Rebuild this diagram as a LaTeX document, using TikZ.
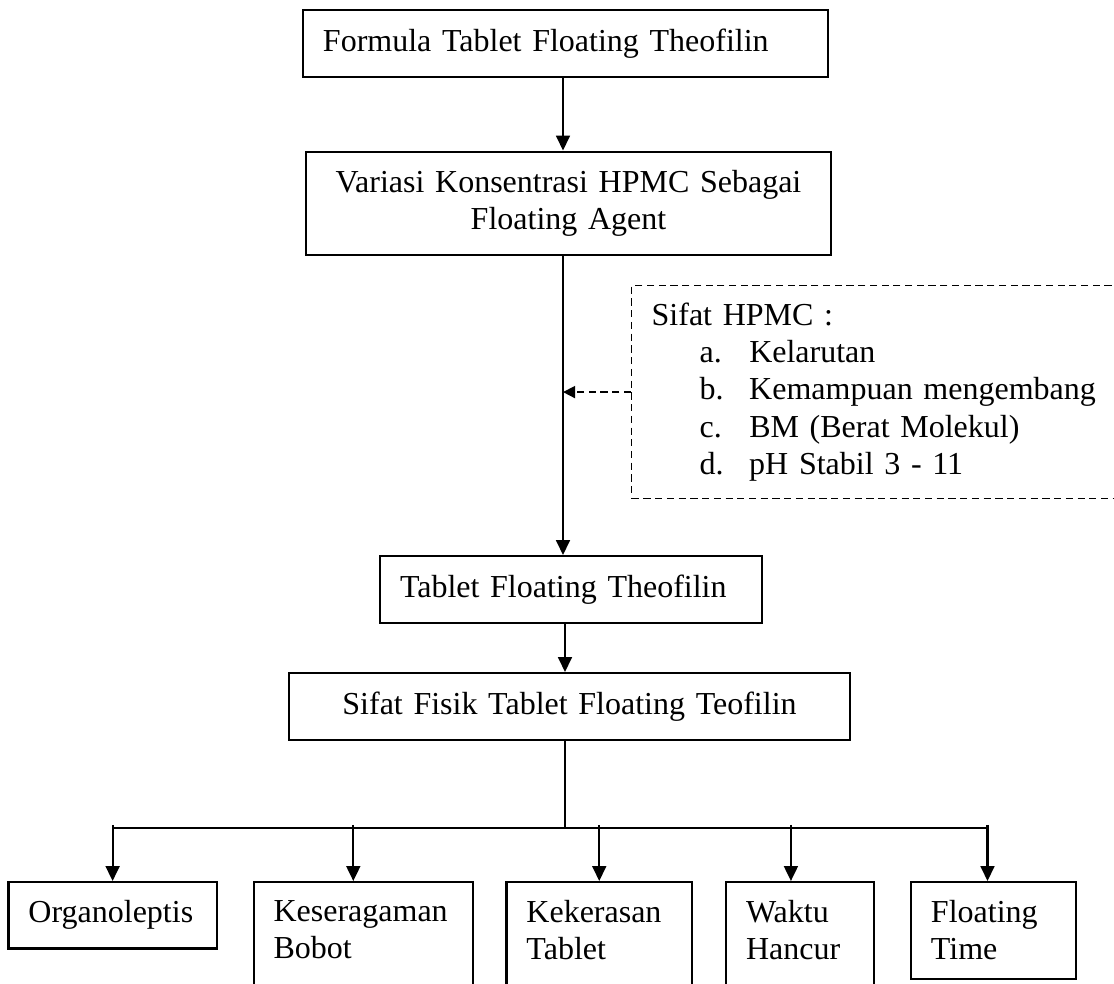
\documentclass[tikz,border=0pt]{standalone}
\usepackage{fontspec}
\setmainfont{Liberation Serif}
\usetikzlibrary{arrows.meta}
\hyphenpenalty=10000
\newcommand{\itm}[1]{\hspace*{18pt}\makebox[18.6pt][l]{#1}}

\begin{document}
\begin{tikzpicture}[x=0.375pt,y=-0.375pt]
    \tikzstyle{box}=[draw, line width=0.8pt, inner xsep=7.5pt, inner ysep=7pt, anchor=north, font=\fontsize{12}{13.8}\selectfont]
    \tikzstyle{lbox}=[box, align=left]
    \tikzstyle{cbox}=[box, align=center]
    \tikzstyle{tallbox}=[lbox, text depth=30pt]
    \tikzstyle{arr}=[line width=0.8pt, -{Triangle[length=5.6pt,width=5.2pt]}]
    \tikzstyle{dasharr}=[line width=0.6pt, dash pattern=on 2.7pt off 1.7pt, -{Triangle[length=4.5pt,width=4.5pt]}]
    \useasboundingbox (0,0) rectangle (1114,983);

    % main chain
    \node[lbox, text width=181.9pt] (form) at (565.5,9) {Formula Tablet Floating Theofilin};
    \node[cbox, text width=181.9pt] (vari) at (568.5,150.5) {Variasi Konsentrasi HPMC Sebagai\\Floating Agent};
    \node[lbox, text width=128.1pt] (tab) at (570.8,555) {Tablet Floating Theofilin};
    \node[cbox, text width=195.4pt] (sifat) at (569.5,672) {Sifat Fisik Tablet Floating Teofilin};

    % side note
    \node[draw, dashed, line width=0.5pt, dash pattern=on 2.7pt off 1.7pt, anchor=north west,
          inner xsep=7.5pt, inner ysep=6.4pt, text width=175.9pt, align=left,
          font=\fontsize{12}{14}\selectfont] (hpmc) at (631,285)
        {Sifat HPMC :\\
         \itm{a.}Kelarutan\\
         \itm{b.}Kemampuan mengembang\\
         \itm{c.}BM (Berat Molekul)\\
         \itm{d.}pH Stabil 3 - 11};

    % tests
    \node[lbox, text width=63.1pt] (org) at (112.6,881) {Organoleptis};
    \node[tallbox, text width=67.3pt] (kes) at (363.3,881) {Keseragaman\\Bobot};
    \node[tallbox, text width=54.6pt] (kek) at (599.25,881) {Kekerasan\\Tablet};
    \node[tallbox, text width=40.5pt] (wak) at (800,881) {Waktu\\Hancur};
    \node[lbox, text width=46.9pt] (flo) at (993.5,881) {Floating\\Time};

    \coordinate (spine) at (563,0);
    \coordinate (bus) at (565,827.6);

    \draw[arr] (form.south -| spine) -- (vari.north -| spine);
    \draw[arr] (vari.south -| spine) -- (tab.north -| spine);
    \draw[dasharr] (hpmc.west) -- (hpmc.west -| spine);
    \draw[arr] (tab.south -| bus) -- (sifat.north -| bus);
    \draw[line width=0.5pt] (sifat.south -| bus) -- (bus);
    \draw[line width=0.8pt] (org.north |- bus) -- ([xshift=-2.25pt]flo.north |- bus);
    \foreach \b/\dx in {org/0pt, kes/-3.75pt, kek/0pt, wak/-3.4pt, flo/-2.25pt}
        \draw[arr] ([xshift=\dx,yshift=1pt]\b.north |- bus) -- ([xshift=\dx]\b.north);
\end{tikzpicture}
\end{document}
